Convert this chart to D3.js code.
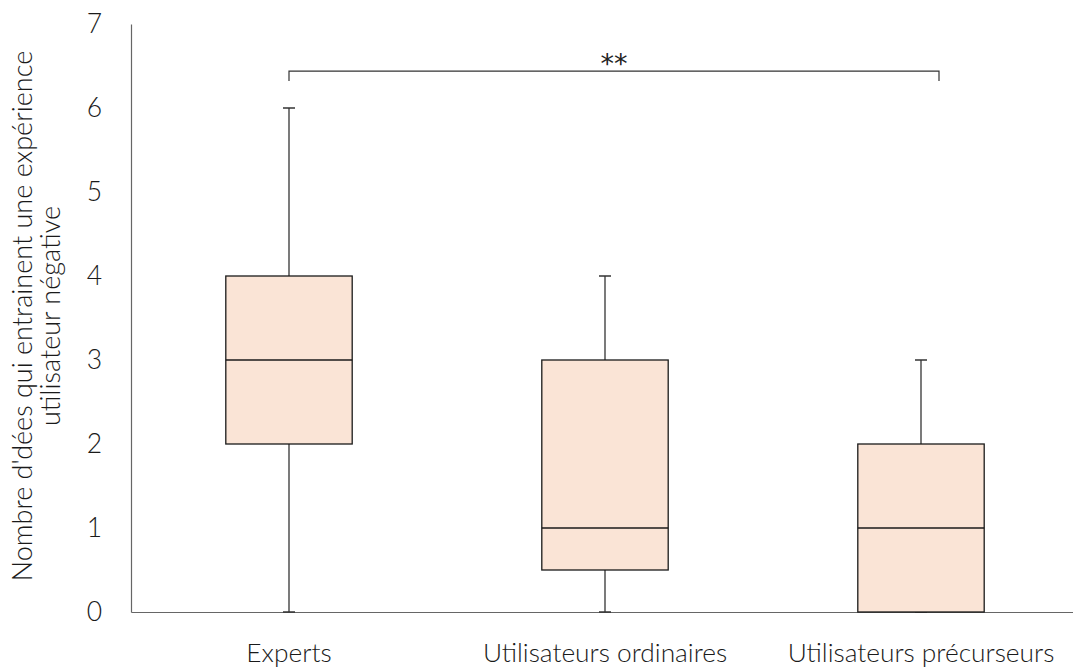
<!DOCTYPE html>
<html><head><meta charset="utf-8">
<script src="https://cdn.jsdelivr.net/npm/d3@7"></script>
<style>
html,body{margin:0;padding:0;background:#fff;}
svg{display:block;font-family:Lato,"Open Sans",sans-serif;font-weight:300;}
</style></head>
<body><svg id="c" width="1073" height="670"></svg>
<script>
const categories = ["Experts", "Utilisateurs ordinaires", "Utilisateurs précurseurs"];
const whiskerMin = [0, 0, 0];
const q1 = [2, 0.5, 0];
const median = [3, 1, 1];
const q3 = [4, 3, 2];
const whiskerMax = [6, 4, 3];
const yTicks = [0, 1, 2, 3, 4, 5, 6, 7];
const yTitle = ["Nombre d'dées qui entrainent une expérience", "utilisateur négative"];
const sigLabel = "**";
const sigPair = [0, 2];
const sigLevel = [6.44];

(function () {
const svg = d3.select("#c");
const mLeft = 131, mRight = 1079, mTop = 24, mBottom = 612;
const x = d3.scaleBand().domain(categories).range([mLeft, mRight]).paddingInner(0).paddingOuter(0);
const y = d3.scaleLinear().domain([0, 7]).range([mBottom, mTop]);
const bw = x.bandwidth() * 0.4;

const data = categories.map((c, i) => ({c, lo: whiskerMin[i], q1: q1[i], med: median[i], q3: q3[i], hi: whiskerMax[i]}));

const yAxis = d3.axisLeft(y).tickValues(yTicks).tickSize(0).tickPadding(29).tickFormat(d3.format("d"));
const gy = svg.append("g").attr("transform", `translate(${mLeft},0)`).call(yAxis);
gy.select(".domain").attr("stroke", "#666").attr("stroke-width", 1.2);
gy.selectAll("text").attr("font-size", 26.5).attr("font-family", "Lato").attr("font-weight", 300).attr("fill", "#1a1a1a");

const xAxis = d3.axisBottom(x).tickSize(0).tickPadding(31);
const gx = svg.append("g").attr("transform", `translate(0,${mBottom})`).call(xAxis);
gx.select(".domain").attr("stroke", "#666").attr("stroke-width", 1.2);
gx.selectAll("text").attr("font-size", 26.3).attr("font-family", "Lato").attr("font-weight", 300).attr("fill", "#1a1a1a");

const g = svg.append("g");
const cx = d => x(d.c) + x.bandwidth() / 2;
g.selectAll(".wl").data(data).join("line").attr("x1", cx).attr("x2", cx)
  .attr("y1", d => y(d.q3)).attr("y2", d => y(d.hi)).attr("stroke", "#333").attr("stroke-width", 1.3);
g.selectAll(".wl2").data(data).join("line").attr("x1", cx).attr("x2", cx)
  .attr("y1", d => y(d.q1)).attr("y2", d => y(d.lo)).attr("stroke", "#333").attr("stroke-width", 1.3);
g.selectAll(".ct").data(data).join("line").attr("x1", d => cx(d) - 6).attr("x2", d => cx(d) + 6)
  .attr("y1", d => y(d.hi)).attr("y2", d => y(d.hi)).attr("stroke", "#333").attr("stroke-width", 1.5);
g.selectAll(".cb").data(data).join("line").attr("x1", d => cx(d) - 6).attr("x2", d => cx(d) + 6)
  .attr("y1", d => y(d.lo)).attr("y2", d => y(d.lo)).attr("stroke", "#333").attr("stroke-width", 1.5);
g.selectAll(".box").data(data).join("rect")
  .attr("x", d => cx(d) - bw / 2).attr("width", bw)
  .attr("y", d => y(d.q3)).attr("height", d => y(d.q1) - y(d.q3))
  .attr("fill", "#fae4d6").attr("stroke", "#1a1a1a").attr("stroke-width", 1.3);
g.selectAll(".med").data(data).join("line")
  .attr("x1", d => cx(d) - bw / 2).attr("x2", d => cx(d) + bw / 2)
  .attr("y1", d => y(d.med)).attr("y2", d => y(d.med)).attr("stroke", "#1a1a1a").attr("stroke-width", 1.3);

const bx1 = x(categories[sigPair[0]]) + x.bandwidth() / 2;
const bx2 = x(categories[sigPair[1]]) + x.bandwidth() / 2 + 18;
const by = y(sigLevel[0]), drop = 10;
svg.append("path").attr("d", `M${bx1},${by + drop}V${by}H${bx2}V${by + drop}`)
  .attr("fill", "none").attr("stroke", "#333").attr("stroke-width", 1.2);
svg.append("text").attr("x", (bx1 + bx2) / 2).attr("y", by + 2).attr("text-anchor", "middle")
  .attr("font-family", "DejaVu Sans").attr("font-weight", 400)
  .attr("font-size", 27).attr("fill", "#222").text(sigLabel);

const tg = svg.append("g").attr("transform", `translate(0,316) rotate(-90)`);
tg.append("text").attr("x", 0).attr("y", 32).attr("text-anchor", "middle").attr("font-size", 27).attr("fill", "#1a1a1a").text(yTitle[0]);
tg.append("text").attr("x", 0).attr("y", 60).attr("text-anchor", "middle").attr("font-size", 27).attr("fill", "#1a1a1a").text(yTitle[1]);
})();
</script></body></html>
